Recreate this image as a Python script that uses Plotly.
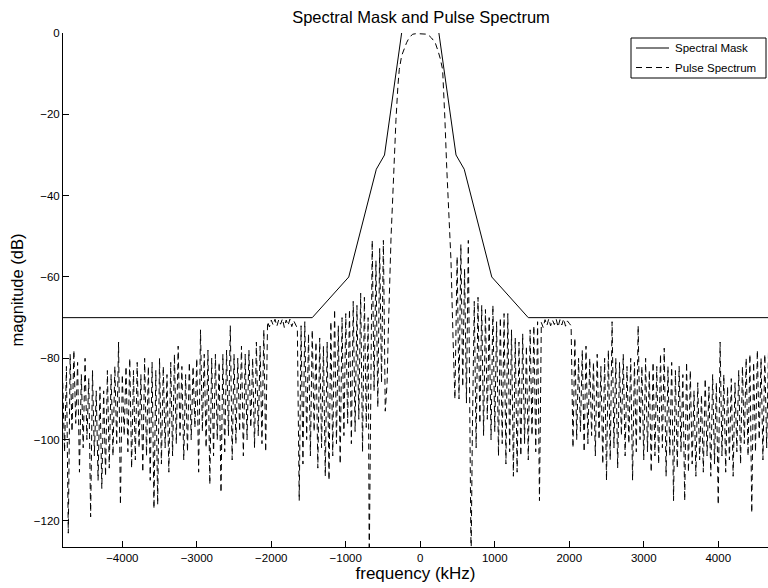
import numpy as np
import plotly.graph_objects as go

# ---- Spectral mask (kHz, dB); None splits the open top of the mask ----
mask_freq_khz = [-4800, -1450, -960, -590, -480, -250, None,
                 250, 480, 590, 960, 1450, 4800]
mask_db = [-70, -70, -60, -33.5, -30, 0, None,
           0, -30, -33.5, -60, -70, -70]

# ---- Pulse spectrum, stored piece by piece (dB) ----
# -4800 .. -2075 kHz
far_left_db = [-86, -103, -82, -123, -79, -98, -78, -96, -81, -108,
               -84, -102, -80, -100, -85, -119, -83, -104, -88, -110,
               -87, -112, -88, -109, -83, -107, -84, -104, -82, -101,
               -76, -116, -84, -99, -82, -103, -80, -107, -83, -105,
               -81, -102, -84, -108, -80, -104, -82, -110, -81, -117,
               -83, -116, -80, -106, -82, -102, -84, -108, -81, -104,
               -79, -101, -77, -99, -82, -105, -84, -103, -81, -100,
               -82, -97, -80, -108, -73, -98, -79, -102, -78, -111,
               -80, -104, -79, -100, -81, -113, -79, -103, -78, -99,
               -72, -105, -79, -101, -80, -98, -77, -104, -79, -100,
               -78, -97, -80, -102, -76, -99, -77, -101, -73, -103]
# -2050 .. -1650 kHz
hump_left_db = [-71.0, -72.3, -70.6, -71.8, -70.4, -72.1, -70.5, -71.6, -70.3,
                -72.4, -70.6, -71.9, -70.4, -72.2, -70.7, -71.5, -72.6]
# -1625 .. -700 kHz
inner_left_db = [-115, -72, -106, -71, -100, -74, -104, -73, -98, -76,
                 -107, -75, -102, -77, -109, -76, -110, -71, -104, -68,
                 -101, -72, -106, -70, -99, -69, -96, -68, -101, -66,
                 -98, -67, -95, -64, -103, -65, -97, -70]
# first null at -685 kHz
null_left_db = [-130]
# -670 .. -470 kHz
sidelobe_left_db = [-96, -51, -88, -56, -92, -53, -86, -51, -93]
# main lobe
main_lobe_freq_khz = [-445, -430, -418, -405, -392, -380, -372, -350, -326, -300,
                      -282, -250, -220, -184, -150, -103, -50, 0, 50, 98,
                      150, 201, 240, 270, 300, 315, 331, 355, 376, 395,
                      412, 440, 465]
main_lobe_db = [-86, -74, -64, -55, -50, -45, -41, -31, -21.3, -13,
                -9, -5.6, -3.9, -2.4, -1.2, -0.3, -0.15, -0.15, -0.15, -0.3,
                -1.2, -2.4, -4.5, -6.4, -9, -14, -21.3, -33, -41, -49,
                -55.8, -75, -90]
# 495 .. 670 kHz
sidelobe_right_db = [-55, -90, -52, -87, -58, -91, -51, -95]
# first null at 682 kHz
null_right_db = [-130]
# 700 .. 1600 kHz
inner_right_db = [-97, -66, -102, -65, -96, -67, -99, -68, -95, -70,
                  -100, -67, -98, -71, -104, -70, -101, -69, -106, -69,
                  -103, -73, -109, -75, -108, -76, -104, -74, -101, -77,
                  -105, -73, -99, -72, -103, -71, -115]
# 1625 .. 2025 kHz
hump_right_db = [-71.2, -72.4, -70.5, -71.9, -70.3, -72.0, -70.6, -71.7, -70.4,
                 -72.3, -70.5, -71.8, -70.3, -72.1, -70.8, -71.4, -72.0]
# 2050 .. 4800 kHz
far_right_db = [-102, -75, -100, -80, -98, -78, -103, -77, -101, -80,
                -99, -81, -104, -79, -100, -82, -106, -80, -110, -78,
                -105, -71, -102, -80, -107, -81, -99, -79, -104, -82,
                -101, -80, -110, -81, -103, -72, -100, -82, -105, -80,
                -103, -83, -108, -81, -104, -82, -106, -79, -102, -77.5,
                -109, -82, -104, -81, -115, -83, -107, -82, -103, -84,
                -115, -81, -108, -83, -106, -88, -109, -86, -105, -89,
                -108, -85, -104, -87, -109, -84, -106, -86, -116, -76,
                -104, -84, -108, -87, -105, -85, -109, -86, -103, -83,
                -106, -82, -101, -80, -104, -79, -118, -81, -103, -78,
                -100, -80, -105, -79, -102, -78, -99, -81, -104, -80,
                -101]

x_ticks = [-4000, -3000, -2000, -1000, 0, 1000, 2000, 3000, 4000]
y_ticks = [-120, -100, -80, -60, -40, -20, 0]
legend_labels = ["Spectral Mask", "Pulse Spectrum"]

# evenly spaced pieces: (first kHz, last kHz, values)
pieces = [
    (-4800, -2075, far_left_db),
    (-2050, -1650, hump_left_db),
    (-1625, -700, inner_left_db),
    (-685, -685, null_left_db),
    (-670, -470, sidelobe_left_db),
    (None, None, main_lobe_db),
    (495, 670, sidelobe_right_db),
    (682, 682, null_right_db),
    (700, 1600, inner_right_db),
    (1625, 2025, hump_right_db),
    (2050, 4800, far_right_db),
]

pulse_freq, pulse_db = [], []
for f0, f1, vals in pieces:
    if f0 is None:
        pulse_freq.extend(main_lobe_freq_khz)
    else:
        pulse_freq.extend(np.linspace(f0, f1, len(vals)).tolist())
    pulse_db.extend(vals)

FONT = "Liberation Sans, Arial, Helvetica, sans-serif"
DASH = "6px,4px"

fig = go.Figure()
fig.add_trace(go.Scatter(
    x=mask_freq_khz, y=mask_db, mode="lines", name=legend_labels[0],
    line=dict(color="black", width=1), connectgaps=False, showlegend=False,
))
fig.add_trace(go.Scatter(
    x=pulse_freq, y=pulse_db, mode="lines", name=legend_labels[1],
    line=dict(color="black", width=1, dash=DASH), showlegend=False,
))

# ---- boxed legend in the top-right corner (paper coordinates) ----
W, H = 768, 588
L, T, B = 63, 33, 41
PW, PH = W - L, H - T - B


def px_x(px):
    return (px - L) / PW


def px_y(py):
    return 1 - (py - T) / PH


box = dict(x0=631, x1=766, y0=38, y1=78)
rows = [48, 67.5]
shapes = [dict(type="rect", xref="paper", yref="paper",
               x0=px_x(box["x0"]), x1=px_x(box["x1"]),
               y0=px_y(box["y1"]), y1=px_y(box["y0"]),
               line=dict(color="black", width=1), fillcolor="white", layer="above")]
annotations = []
for row_y, label, dash in zip(rows, legend_labels, ["solid", DASH]):
    shapes.append(dict(type="line", xref="paper", yref="paper",
                       x0=px_x(636), x1=px_x(669), y0=px_y(row_y), y1=px_y(row_y),
                       line=dict(color="black", width=1, dash=dash), layer="above"))
    annotations.append(dict(xref="paper", yref="paper", x=px_x(674), y=px_y(row_y),
                            text=label, showarrow=False, xanchor="left", yanchor="middle",
                            xshift=-1,
                            font=dict(size=11.5, family=FONT, color="black")))

fig.update_layout(
    width=W, height=H,
    margin=dict(l=L, r=0, t=T, b=B),
    paper_bgcolor="white", plot_bgcolor="white",
    font=dict(family=FONT, color="black", size=11.5),
    title=dict(text="Spectral Mask and Pulse Spectrum",
               x=px_x(421), xref="paper", xanchor="center",
               y=1 - 17 / H, yref="container", yanchor="middle",
               font=dict(size=16.5, family=FONT, color="black")),
    showlegend=False,
    shapes=shapes,
    annotations=annotations,
)
fig.update_xaxes(
    range=[-4796, 4668], tickvals=x_ticks,
    showline=True, linecolor="black", linewidth=1,
    ticks="inside", ticklen=6, tickcolor="black",
    showgrid=False, zeroline=False,
    tickfont=dict(size=11.5),
    title=dict(text="frequency (kHz)", font=dict(size=17), standoff=2),
)
fig.update_yaxes(
    range=[-126.4, 0], tickvals=y_ticks,
    showline=True, linecolor="black", linewidth=1,
    ticks="inside", ticklen=6, tickcolor="black",
    showgrid=False, zeroline=False,
    tickfont=dict(size=11.5),
    title=dict(text="magnitude (dB)", font=dict(size=16.5), standoff=6),
)

fig.write_html("out.html")
